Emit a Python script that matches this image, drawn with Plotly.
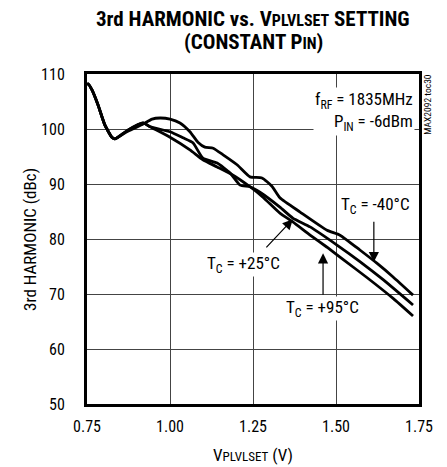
import plotly.graph_objects as go

# -40°C curve
x_m40 = [0.75, 0.753, 0.765, 0.783, 0.804, 0.825, 0.834, 0.873, 0.919, 0.946, 0.970, 1.000, 1.030, 1.060,
         1.084, 1.105, 1.130, 1.160, 1.202, 1.241, 1.277, 1.307, 1.331, 1.392, 1.473, 1.512, 1.572,
         1.623, 1.672, 1.732]
y_m40 = [108.0, 108.2, 107.1, 104.4, 100.7, 98.5, 98.2, 99.6, 100.9, 101.8, 102.0, 101.8, 101.1, 99.5,
         97.6, 96.7, 96.5, 95.3, 93.5, 91.3, 91.1, 89.6, 87.5, 84.9, 81.6, 80.7, 78.0,
         75.6, 73.1, 69.8]

# +25°C curve
x_p25 = [0.75, 0.753, 0.765, 0.783, 0.804, 0.825, 0.834, 0.873, 0.919, 0.940, 1.000, 1.039, 1.069, 1.099,
         1.142, 1.181, 1.211, 1.241, 1.271, 1.331, 1.370, 1.422, 1.503, 1.572, 1.642, 1.732]
y_p25 = [108.0, 108.2, 107.1, 104.4, 100.7, 98.5, 98.2, 99.8, 101.1, 100.4, 99.5, 98.4, 97.5, 94.7,
         93.8, 92.0, 89.8, 89.5, 88.5, 85.8, 83.8, 82.2, 78.9, 75.9, 72.6, 68.0]

# +95°C curve
x_p95 = [0.75, 0.753, 0.765, 0.783, 0.804, 0.825, 0.834, 0.873, 0.919, 0.940, 1.000, 1.060, 1.099, 1.142,
         1.190, 1.241, 1.280, 1.331, 1.370, 1.422, 1.473, 1.521, 1.593, 1.672, 1.732]
y_p95 = [108.0, 108.2, 107.1, 104.4, 100.7, 98.5, 98.2, 99.8, 101.1, 100.4, 98.5, 96.2, 94.4, 93.1,
         91.6, 89.5, 87.6, 84.7, 83.1, 80.7, 78.5, 76.3, 73.0, 69.2, 66.0]

x_ticks = [0.75, 1.00, 1.25, 1.50, 1.75]
x_tick_labels = ["0.75", "1.00", "1.25", "1.50", "1.75"]
y_ticks = [50, 60, 70, 80, 90, 100, 110]

FONT = "Roboto Condensed, Liberation Sans Narrow, Arial Narrow, sans-serif"

fig = go.Figure()
for xs, ys in [(x_m40, y_m40), (x_p25, y_p25), (x_p95, y_p95)]:
    fig.add_trace(go.Scatter(x=xs, y=ys, mode="lines",
                             line=dict(color="black", width=2.8, shape="spline", smoothing=0.5),
                             showlegend=False, hoverinfo="skip"))

# arrows
arrows = [
    dict(x=1.614, y=75.8, ax=1.614, ay=83.4),
    dict(x=1.37, y=83.6, ax=1.286, ay=78.2),
    dict(x=1.461, y=77.4, ax=1.461, ay=69.6),
]
for a in arrows:
    fig.add_annotation(text="", showarrow=True, arrowhead=2, arrowsize=1.7, arrowwidth=1.2,
                       arrowcolor="black", axref="x", ayref="y", **a)

label_font = dict(family=FONT, size=17, color="black")
fig.add_annotation(x=1.618, y=86.1, text="T<sub>C</sub> = -40°C", showarrow=False, font=label_font,
                   bgcolor="white", borderpad=0)
fig.add_annotation(x=1.22, y=75.3, text="T<sub>C</sub> = +25°C", showarrow=False, font=label_font,
                   bgcolor="white", borderpad=0)
fig.add_annotation(x=1.458, y=67.3, text="T<sub>C</sub> = +95°C", showarrow=False, font=label_font,
                   bgcolor="white", borderpad=0)
fig.add_annotation(x=1.738, y=103.2, xanchor="right", align="right", showarrow=False,
                   text="f<sub>RF</sub> = 1835MHz<br>P<sub>IN</sub> = -6dBm", font=label_font,
                   bgcolor="white", borderpad=1)
fig.add_annotation(xref="paper", yref="paper", x=1.025, y=1.005, xanchor="center", yanchor="top",
                   text="MAX2092 toc30", textangle=-90, showarrow=False,
                   font=dict(family=FONT, size=9.5, color="black"))

# title (two lines)
title_font = dict(family=FONT, size=21, color="black")
fig.add_annotation(xref="paper", yref="paper", x=0.5, y=1.167, xanchor="center", yanchor="middle",
                   showarrow=False,
                   text="<b>3rd HARMONIC vs. V<span style='font-size:16px'>PLVLSET</span> SETTING</b>",
                   font=title_font)
fig.add_annotation(xref="paper", yref="paper", x=0.5, y=1.097, xanchor="center", yanchor="middle",
                   showarrow=False,
                   text="<b>(CONSTANT P<span style='font-size:16px'>IN</span>)</b>",
                   font=title_font)
# axis titles
fig.add_annotation(xref="paper", yref="paper", x=0.5, y=-0.155, xanchor="center", yanchor="middle",
                   showarrow=False,
                   text="V<span style='font-size:13px'>PLVLSET</span> (V)",
                   font=dict(family=FONT, size=17, color="black"))
fig.add_annotation(xref="paper", yref="paper", x=-0.172, y=0.5, xanchor="center", yanchor="middle",
                   showarrow=False, textangle=-90, text="3rd HARMONIC (dBc)",
                   font=dict(family=FONT, size=17, color="black"))

fig.update_layout(
    width=439, height=459,
    margin=dict(l=79, r=28, t=66, b=63, autoexpand=False),
    paper_bgcolor="white", plot_bgcolor="white",
    font=dict(family=FONT, size=15, color="black"),
)
fig.update_xaxes(range=[0.75, 1.75], tickvals=x_ticks, ticktext=x_tick_labels,
                 showgrid=True, gridcolor="#444", gridwidth=1,
                 showline=True, linecolor="black", linewidth=3, mirror=True,
                 ticks="", ticklabelstandoff=6, tickfont=dict(family=FONT, size=16),
                 automargin=False, zeroline=False)
fig.update_yaxes(range=[50, 110], tickvals=y_ticks,
                 showgrid=True, gridcolor="#444", gridwidth=1,
                 showline=True, linecolor="black", linewidth=3, mirror=True,
                 ticks="", ticklabelstandoff=16, tickfont=dict(family=FONT, size=16),
                 automargin=False, zeroline=False)

fig.write_html("out.html")
